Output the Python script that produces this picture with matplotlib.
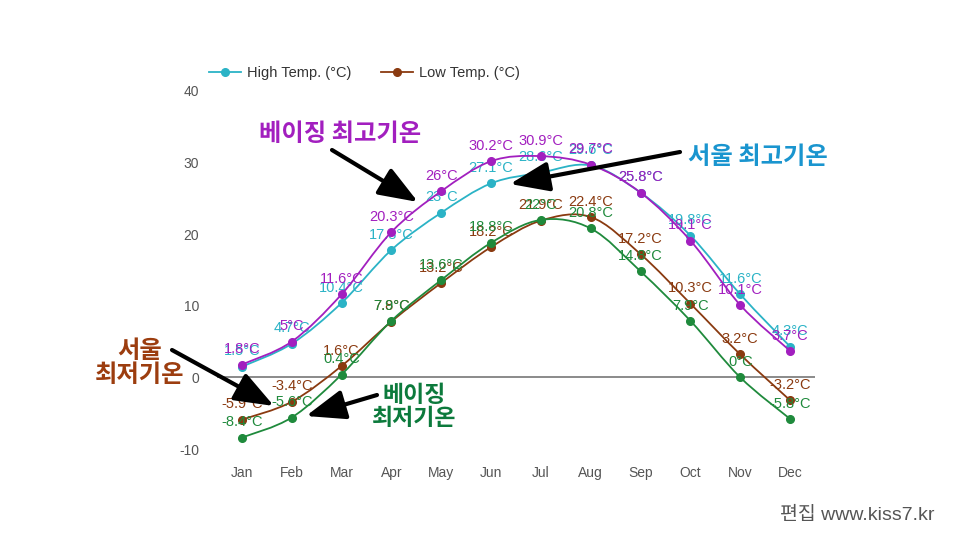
import matplotlib
matplotlib.use("Agg")
import matplotlib.pyplot as plt
import numpy as np
from matplotlib.path import Path
from matplotlib.patches import PathPatch

plt.rcParams["font.family"] = ["Liberation Sans", "Noto Sans CJK KR", "DejaVu Sans"]
plt.rcParams["axes.unicode_minus"] = False

months = ["Jan", "Feb", "Mar", "Apr", "May", "Jun",
          "Jul", "Aug", "Sep", "Oct", "Nov", "Dec"]
seoul_high = [1.5, 4.7, 10.4, 17.8, 23, 27.1, 28.6, 29.6, 25.8, 19.8, 11.6, 4.3]
beijing_high = [1.8, 5, 11.6, 20.3, 26, 30.2, 30.9, 29.7, 25.8, 19.1, 10.1, 3.7]
seoul_low = [-5.9, -3.4, 1.6, 7.8, 13.2, 18.2, 21.9, 22.4, 17.2, 10.3, 3.2, -3.2]
beijing_low = [-8.4, -5.6, 0.4, 7.9, 13.6, 18.8, 22, 20.8, 14.8, 7.9, 0, -5.8]
yticks = [-10, 0, 10, 20, 30, 40]

C_SEOUL_HIGH = "#2bb3c6"
C_BEIJING_HIGH = "#a21fbf"
C_SEOUL_LOW = "#8a3a10"
C_BEIJING_LOW = "#1f8a3c"


def smooth_path(xs, ys):
    """Catmull-Rom style bezier through the points"""
    pts = np.column_stack([xs, ys]).astype(float)
    n = len(pts)
    verts = [pts[0]]
    codes = [Path.MOVETO]
    for i in range(n - 1):
        p0 = pts[max(i - 1, 0)]
        p1 = pts[i]
        p2 = pts[i + 1]
        p3 = pts[min(i + 2, n - 1)]
        verts += [p1 + (p2 - p0) / 6, p2 - (p3 - p1) / 6, p2]
        codes += [Path.CURVE4] * 3
    return Path(verts, codes)


def draw_series(ax, values, color, z):
    x = np.arange(len(values))
    ax.add_patch(PathPatch(smooth_path(x, values), fill=False,
                           edgecolor=color, lw=1.3, zorder=z))
    ax.plot(x, values, "o", color=color, ms=5.5, zorder=z + 0.5)
    for xi, v in zip(x, values):
        ax.annotate(f"{v:g}°C", (xi, v), xytext=(0, 6), textcoords="offset points",
                    ha="center", va="bottom", fontsize=10.5, color=color,
                    zorder=z + 1)


fig = plt.figure(figsize=(9.6, 5.4), dpi=100)
ax = fig.add_axes([0.226, 0.1685, 0.623, 0.663])
ax.set_xlim(-0.5, 11.5)
ax.set_ylim(-10, 40)

ax.axhline(0, color="#777777", lw=1.2, zorder=1)

draw_series(ax, seoul_low, C_SEOUL_LOW, 3)
draw_series(ax, beijing_low, C_BEIJING_LOW, 4)
draw_series(ax, seoul_high, C_SEOUL_HIGH, 5)
draw_series(ax, beijing_high, C_BEIJING_HIGH, 6)

for s in ax.spines.values():
    s.set_visible(False)
ax.set_xticks(range(len(months)))
ax.set_xticklabels(months)
ax.set_yticks(yticks)
ax.tick_params(length=0, labelsize=10, colors="#555555")
ax.tick_params(axis="x", pad=12)
ax.tick_params(axis="y", pad=13)

# legend (only the original two series)
h1, = ax.plot([], [], "-o", color=C_SEOUL_HIGH, ms=5.5, lw=1.3)
h2, = ax.plot([], [], "-o", color=C_SEOUL_LOW, ms=5.5, lw=1.3)
fig.legend([h1, h2], ["High Temp. (°C)", "Low Temp. (°C)"], loc="center left",
           bbox_to_anchor=(0.218, 0.865), ncol=2, frameon=False, fontsize=10.5,
           handlelength=2.2, handletextpad=0.4, columnspacing=2.0,
           labelcolor="#333333", borderaxespad=0, borderpad=0)

# editor annotations
arrow = dict(arrowstyle="-|>,head_width=0.38,head_length=1.0", lw=3,
             color="black", mutation_scale=24, shrinkA=0, shrinkB=0)
kr = dict(fontsize=17.5, fontweight="bold", ha="center", va="center",
          family=["Noto Sans CJK KR", "DejaVu Sans"])

def px(x, y):
    return (x / 960, 1 - y / 540)

fig.text(*px(340, 134), "베이징 최고기온", color=C_BEIJING_HIGH, **kr)
fig.text(*px(758, 157), "서울 최고기온", color="#1a95cf", **kr)
fig.text(*px(140, 363), "서울\n최저기온", color="#9c3d0f", linespacing=1.0, **kr)
fig.text(*px(414, 407), "베이징\n최저기온", color="#0c7a3c", linespacing=1.05,
         **{**kr, "fontsize": 16.5})

for tail, head in [((332, 150), (418, 202)), ((680, 152), (510, 184)),
                   ((172, 350), (274, 406)), ((377, 395), (306, 416))]:
    ax.annotate("", xy=px(*head), xytext=px(*tail), xycoords="figure fraction",
                textcoords="figure fraction", arrowprops=arrow, zorder=10)

fig.text(*px(857, 515), "편집 www.kiss7.kr", ha="center", va="center",
         fontsize=14, color="#555555")

fig.savefig("out.png", dpi=100)
